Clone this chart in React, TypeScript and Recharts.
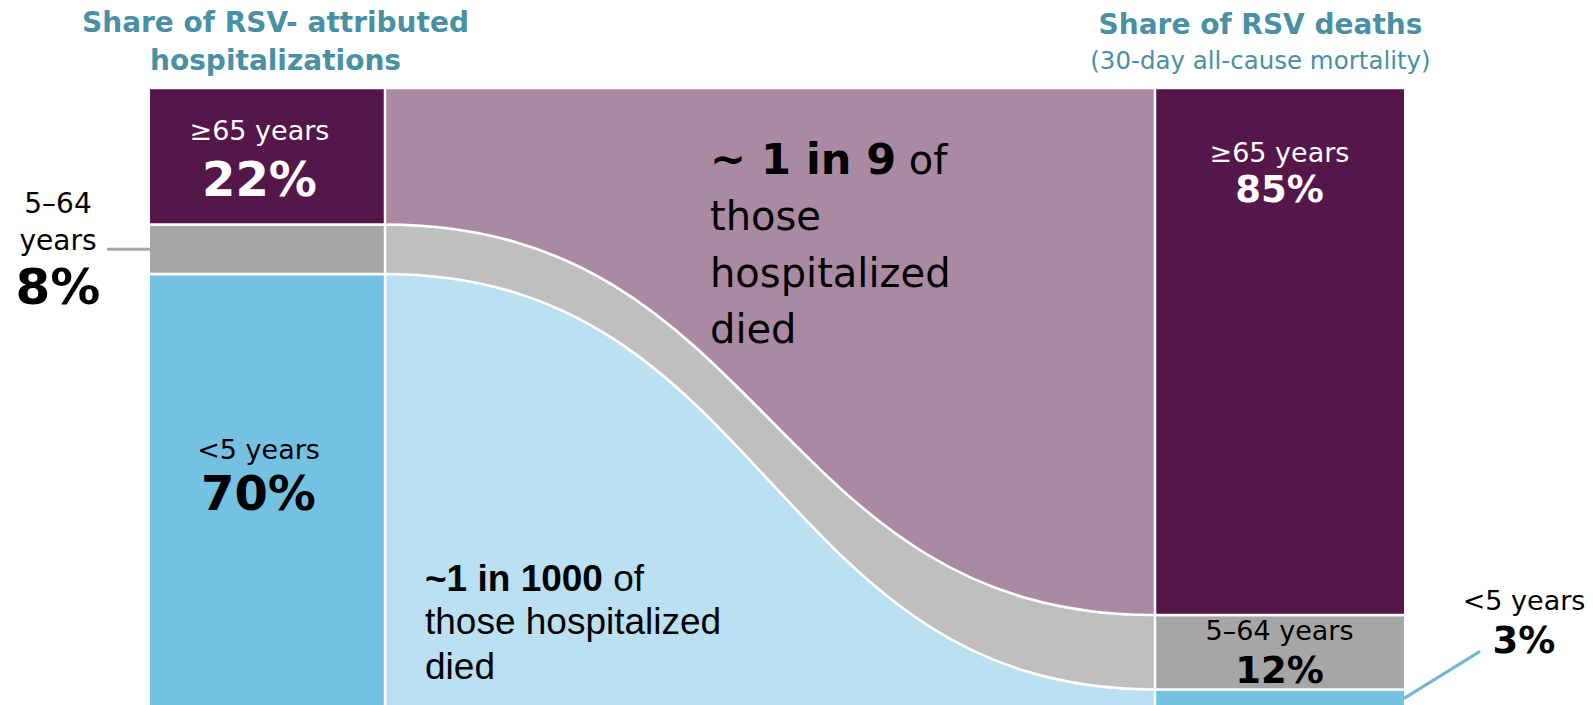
import React from 'react';
import { ComposedChart, Area, XAxis, YAxis, ReferenceLine, ReferenceArea } from 'recharts';

// age groups, stacked from the bottom of each column
const ageGroups = ['<5 years', '5–64 years', '≥65 years'];
const hospitalizationShare = [70, 8, 22];
const deathShare = [3, 12, 85];

// x of the column edges: hospitalization bar | flow band | deaths bar
const columnEdges = [0, 235, 1005, 1254];

const barColors = ['#74C1E2', '#A6A6A6', '#55164A'];
const flowColors = ['#BAE0F1', '#BFBFBF', '#AA89A3'];
const TEAL = '#4A90A4';
const VERDANA = '"DejaVu Sans", Verdana, sans-serif';
const ARIAL = '"Liberation Sans", Arial, sans-serif';

const stackBounds = (shares: number[]) => {
  let acc = 0;
  return shares.map((s) => {
    const lo = acc;
    acc += s;
    return [lo, acc];
  });
};
const hospBounds = stackBounds(hospitalizationShare);
const deathBounds = stackBounds(deathShare);

const rows = columnEdges.map((x, i) => {
  const row: Record<string, any> = { x };
  ageGroups.forEach((_, k) => {
    row[`hosp${k}`] = i <= 1 ? hospBounds[k] : null;
    row[`flow${k}`] = i === 1 ? hospBounds[k] : i === 2 ? deathBounds[k] : null;
    row[`death${k}`] = i >= 2 ? deathBounds[k] : null;
  });
  return row;
});

type Part = { t: string; size: number; bold?: boolean };
type TextLine = { dy: number; parts: Part[] };

const Note = (props: any) => {
  const { viewBox, lines, dx = 0, anchor = 'middle', fill = '#000', family = VERDANA, from = 'center', fromY = 'top' } = props;
  if (!viewBox) return null;
  const { x, y, width, height } = viewBox;
  const ax = from === 'left' ? x + dx : from === 'right' ? x + width + dx : x + width / 2 + dx;
  const ay = fromY === 'center' ? y + height / 2 : y;
  return (
    <g>
      {props.leader && (
        <line
          x1={props.leader.side === 'left' ? x + props.leader.x1 : x + width + props.leader.x1}
          x2={props.leader.side === 'left' ? x + props.leader.x2 : x + width + props.leader.x2}
          y1={ay + props.leader.y1}
          y2={ay + props.leader.y2}
          stroke={props.leader.color}
          strokeWidth={3}
        />
      )}
      <text textAnchor={anchor} fill={fill} fontFamily={family}>
        {lines.map((ln: TextLine, i: number) => (
          <tspan key={i} x={ax} y={ay + ln.dy}>
            {ln.parts.map((p, j) => (
              <tspan key={j} fontSize={p.size} fontWeight={p.bold ? 700 : 400}>
                {p.t}
              </tspan>
            ))}
          </tspan>
        ))}
      </text>
    </g>
  );
};

const pct = (v: number) => `${v}%`;

export default function App() {
  return (
    <div style={{ position: 'fixed', left: 0, top: 0, width: 1593, height: 705, overflow: 'hidden', background: '#fff' }}>
      <ComposedChart width={1593} height={720} data={rows} margin={{ top: 88, right: 189, bottom: 12, left: 150 }}>
        <XAxis type="number" dataKey="x" domain={[columnEdges[0], columnEdges[3]]} hide />
        <YAxis type="number" domain={[0, 100]} hide />
        {ageGroups.map((g, k) => (
          <Area key={`h${k}`} dataKey={`hosp${k}`} type="linear" fill={barColors[k]} fillOpacity={1}
            stroke="#fff" strokeWidth={2.5} dot={false} activeDot={false} isAnimationActive={false} />
        ))}
        {ageGroups.map((g, k) => (
          <Area key={`f${k}`} dataKey={`flow${k}`} type="bumpX" fill={flowColors[k]} fillOpacity={1}
            stroke="#fff" strokeWidth={2.5} dot={false} activeDot={false} isAnimationActive={false} />
        ))}
        {ageGroups.map((g, k) => (
          <Area key={`d${k}`} dataKey={`death${k}`} type="linear" fill={barColors[k]} fillOpacity={1}
            stroke="#fff" strokeWidth={2.5} dot={false} activeDot={false} isAnimationActive={false} />
        ))}
        <ReferenceLine x={columnEdges[1]} stroke="#fff" strokeWidth={2.5} ifOverflow="visible" />
        <ReferenceLine x={columnEdges[2]} stroke="#fff" strokeWidth={2.5} ifOverflow="visible" />

        {/* column titles */}
        <ReferenceArea x1={columnEdges[0]} x2={columnEdges[1]} y1={0} y2={100} fillOpacity={0} stroke="none" ifOverflow="visible"
          label={(p: any) => (
            <Note viewBox={p.viewBox} dx={8} fill={TEAL}
              lines={[
                { dy: -56, parts: [{ t: 'Share of RSV- attributed', size: 28, bold: true }] },
                { dy: -18, parts: [{ t: 'hospitalizations', size: 28, bold: true }] },
              ]} />
          )} />
        <ReferenceArea x1={columnEdges[2]} x2={columnEdges[3]} y1={0} y2={100} fillOpacity={0} stroke="none" ifOverflow="visible"
          label={(p: any) => (
            <Note viewBox={p.viewBox} dx={-19} fill={TEAL}
              lines={[
                { dy: -54, parts: [{ t: 'Share of RSV deaths', size: 28, bold: true }] },
                { dy: -19, parts: [{ t: '(30-day all-cause mortality)', size: 24.5 }] },
              ]} />
          )} />

        {/* hospitalization column labels */}
        <ReferenceArea x1={columnEdges[0]} x2={columnEdges[1]} y1={hospBounds[2][0]} y2={hospBounds[2][1]} fillOpacity={0} stroke="none" ifOverflow="visible"
          label={(p: any) => (
            <Note viewBox={p.viewBox} dx={-8} fill="#fff"
              lines={[
                { dy: 52, parts: [{ t: ageGroups[2], size: 27 }] },
                { dy: 108, parts: [{ t: pct(hospitalizationShare[2]), size: 48, bold: true }] },
              ]} />
          )} />
        <ReferenceArea x1={columnEdges[0]} x2={columnEdges[1]} y1={hospBounds[1][0]} y2={hospBounds[1][1]} fillOpacity={0} stroke="none" ifOverflow="visible"
          label={(p: any) => (
            <Note viewBox={p.viewBox} from="left" dx={-92} fromY="center"
              leader={{ side: 'left', x1: -43, x2: 0, y1: 0, y2: 0, color: '#A6A6A6' }}
              lines={[
                { dy: -36, parts: [{ t: '5–64', size: 28 }] },
                { dy: 1, parts: [{ t: 'years', size: 28 }] },
                { dy: 55, parts: [{ t: pct(hospitalizationShare[1]), size: 50, bold: true }] },
              ]} />
          )} />
        <ReferenceArea x1={columnEdges[0]} x2={columnEdges[1]} y1={hospBounds[0][0]} y2={hospBounds[0][1]} fillOpacity={0} stroke="none" ifOverflow="visible"
          label={(p: any) => (
            <Note viewBox={p.viewBox} dx={-9}
              lines={[
                { dy: 185, parts: [{ t: ageGroups[0], size: 27 }] },
                { dy: 236, parts: [{ t: pct(hospitalizationShare[0]), size: 48, bold: true }] },
              ]} />
          )} />

        {/* deaths column labels */}
        <ReferenceArea x1={columnEdges[2]} x2={columnEdges[3]} y1={deathBounds[2][0]} y2={deathBounds[2][1]} fillOpacity={0} stroke="none" ifOverflow="visible"
          label={(p: any) => (
            <Note viewBox={p.viewBox} fill="#fff"
              lines={[
                { dy: 74, parts: [{ t: ageGroups[2], size: 27 }] },
                { dy: 114, parts: [{ t: pct(deathShare[2]), size: 37, bold: true }] },
              ]} />
          )} />
        <ReferenceArea x1={columnEdges[2]} x2={columnEdges[3]} y1={deathBounds[1][0]} y2={deathBounds[1][1]} fillOpacity={0} stroke="none" ifOverflow="visible"
          label={(p: any) => (
            <Note viewBox={p.viewBox}
              lines={[
                { dy: 25, parts: [{ t: ageGroups[1], size: 27 }] },
                { dy: 68, parts: [{ t: pct(deathShare[1]), size: 37, bold: true }] },
              ]} />
          )} />
        <ReferenceArea x1={columnEdges[2]} x2={columnEdges[3]} y1={deathBounds[0][0]} y2={deathBounds[0][1]} fillOpacity={0} stroke="none" ifOverflow="visible"
          label={(p: any) => (
            <Note viewBox={p.viewBox} from="right" dx={120}
              leader={{ side: 'right', x1: 0, x2: 76, y1: 9, y2: -38, color: '#74B7D0' }}
              lines={[
                { dy: -79, parts: [{ t: ageGroups[0], size: 27 }] },
                { dy: -36, parts: [{ t: pct(deathShare[0]), size: 37, bold: true }] },
              ]} />
          )} />

        {/* flow annotations */}
        <ReferenceArea x1={columnEdges[1]} x2={columnEdges[2]} y1={0} y2={100} fillOpacity={0} stroke="none" ifOverflow="visible"
          label={(p: any) => (
            <g>
              <Note viewBox={p.viewBox} from="left" dx={325} anchor="start"
                lines={[
                  { dy: 86, parts: [{ t: '~ 1 in 9', size: 43, bold: true }, { t: ' of', size: 40 }] },
                  { dy: 142, parts: [{ t: 'those', size: 40 }] },
                  { dy: 199, parts: [{ t: 'hospitalized', size: 40 }] },
                  { dy: 255, parts: [{ t: 'died', size: 40 }] },
                ]} />
              <Note viewBox={p.viewBox} from="left" dx={40} anchor="start" family={ARIAL}
                lines={[
                  { dy: 503, parts: [{ t: '~1 in 1000', size: 37, bold: true }, { t: ' of', size: 37 }] },
                  { dy: 546, parts: [{ t: 'those hospitalized', size: 37 }] },
                  { dy: 591, parts: [{ t: 'died', size: 37 }] },
                ]} />
            </g>
          )} />
      </ComposedChart>
    </div>
  );
}
